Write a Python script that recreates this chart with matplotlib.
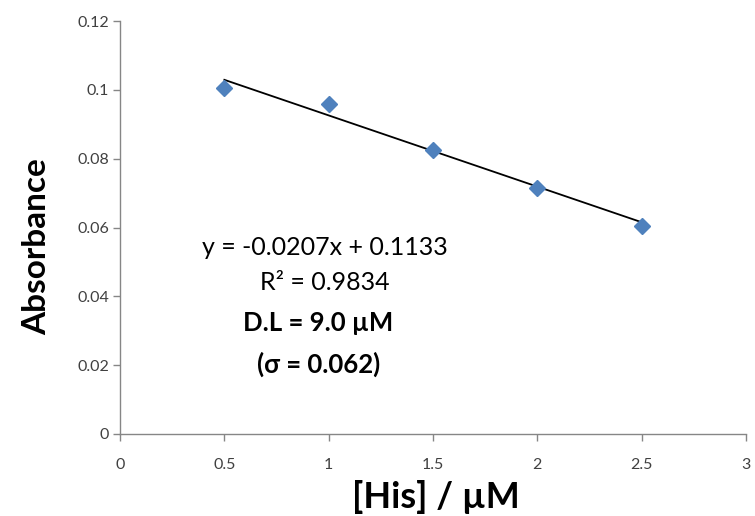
import matplotlib
matplotlib.use("Agg")
import matplotlib.pyplot as plt
import numpy as np

plt.rcParams['font.family'] = ['Lato', 'DejaVu Sans']

# Histidine concentration (µM) and measured absorbance
his_conc = [0.5, 1.0, 1.5, 2.0, 2.5]
absorbance = [0.1005, 0.0959, 0.0825, 0.0715, 0.0604]

# Linear fit reported on the chart
slope = -0.0207
intercept = 0.1133

x_ticks = [0, 0.5, 1, 1.5, 2, 2.5, 3]
x_tick_labels = ['0', '0.5', '1', '1.5', '2', '2.5', '3']
y_ticks = [0, 0.02, 0.04, 0.06, 0.08, 0.1, 0.12]
y_tick_labels = ['0', '0.02', '0.04', '0.06', '0.08', '0.1', '0.12']

fig = plt.figure(figsize=(7.55, 5.16), dpi=100)
ax = fig.add_axes([0.159, 0.159, 0.829, 0.800])

axis_gray = '#868686'
text_color = '#404040'

fit_x = np.array([his_conc[0], his_conc[-1]])
ax.plot(fit_x, slope * fit_x + intercept, color='black', lw=1.3, zorder=2)
ax.plot(his_conc, absorbance, linestyle='none', marker='D', markersize=8,
        color='#4F81BD', markeredgecolor='#4F81BD', zorder=3)

ax.set_xlim(0, 3)
ax.set_ylim(0, 0.12)
ax.set_xticks(x_ticks)
ax.set_xticklabels(x_tick_labels)
ax.set_yticks(y_ticks)
ax.set_yticklabels(y_tick_labels)

for side in ['top', 'right']:
    ax.spines[side].set_visible(False)
for side in ['left', 'bottom']:
    ax.spines[side].set_color(axis_gray)
    ax.spines[side].set_linewidth(1.0)

ax.tick_params(axis='both', colors=axis_gray, labelcolor=text_color,
               labelsize=11.5, length=5, width=1.0, direction='out')
ax.tick_params(axis='x', pad=12)
ax.tick_params(axis='y', pad=3)

ax.set_xlabel('[His] / µM', fontsize=26, fontweight='bold', color='black', va='center')
ax.xaxis.set_label_coords(0.505, -0.153)
ax.set_ylabel('Absorbance', fontsize=24, fontweight='bold', color='black', va='center')
ax.yaxis.set_label_coords(-0.133, 0.453)

ax.text(0.98, 0.0543, 'y = -0.0207x + 0.1133', fontsize=18, color='black',
        ha='center', va='center')
ax.text(0.98, 0.0439, 'R² = 0.9834', fontsize=18, color='black',
        ha='center', va='center')
ax.text(0.95, 0.0323, 'D.L = 9.0 µM', fontsize=18.5, fontweight='bold', color='black',
        ha='center', va='center')
ax.text(0.95, 0.0203, '(σ = 0.062)', fontsize=18.5, fontweight='bold', color='black',
        ha='center', va='center')

fig.savefig('out.png', dpi=100, facecolor='white')
